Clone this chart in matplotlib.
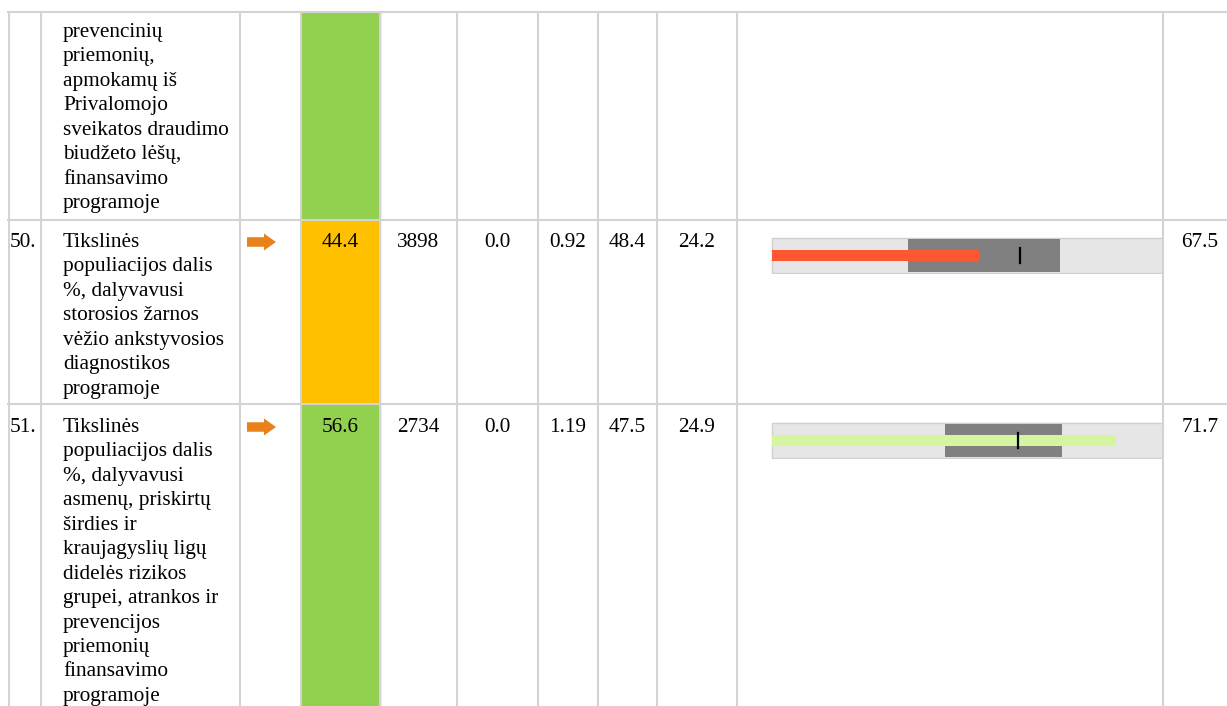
import matplotlib
matplotlib.use("Agg")
import matplotlib.pyplot as plt
from matplotlib.patches import Rectangle

# table data (last row is cut off by the picture, first row is a continuation)
row_nums = ["", "50.", "51."]
row_text = [
    ["prevencinių", "priemonių,", "apmokamų iš", "Privalomojo",
     "sveikatos draudimo", "biudžeto lėšų,", "finansavimo", "programoje"],
    ["Tikslinės", "populiacijos dalis", "%, dalyvavusi", "storosios žarnos",
     "vėžio ankstyvosios", "diagnostikos", "programoje"],
    ["Tikslinės", "populiacijos dalis", "%, dalyvavusi", "asmenų, priskirtų",
     "širdies ir", "kraujagyslių ligų", "didelės rizikos", "grupei, atrankos ir",
     "prevencijos", "priemonių", "finansavimo", "programoje"],
]
has_arrow = [False, True, True]
values = [None, 44.4, 56.6]
value_colors = ["#92D050", "#FFC000", "#92D050"]
counts = [None, 3898, 2734]
col_zero = [None, 0.0, 0.0]
ratios = [None, 0.92, 1.19]
lt_avg = [None, 48.4, 47.5]
mins = [None, 24.2, 24.9]
maxs = [None, 67.5, 71.7]
band_lo = [None, 37.5, 40.8]
band_hi = [None, 52.3, 51.6]
bar_colors = [None, "#FF5733", "#D6F5A0"]
# visible part of the bullet scale (the rest is cut by the column border)
scale_lo = [None, 24.1, 24.8]
scale_hi = [None, 62.3, 60.8]

W, H = 1227, 706
fig = plt.figure(figsize=(W / 100, H / 100), dpi=100)
ax = fig.add_axes([0, 0, 1, 1])
ax.set_xlim(0, W)
ax.set_ylim(H, 0)
ax.axis("off")

col_x = [9, 41, 240, 301, 380, 457, 538, 598, 657, 737, 1163]
row_y = [12, 220, 404, 730]
first_base = [37, 247, 432]
line_h = 24.45
grid_c = "#D3D3D3"
font = dict(family="Liberation Serif", fontsize=15.3, color="black")

for i in range(3):
    top, bot = row_y[i], row_y[i + 1]
    ax.add_patch(Rectangle((col_x[3], top), col_x[4] - col_x[3], bot - top,
                           color=value_colors[i], zorder=1))
    b = first_base[i]
    for k, line in enumerate(row_text[i]):
        ax.text(63, b + k * line_h, line, va="baseline", ha="left", **font)
    if row_nums[i]:
        ax.text(10, b, row_nums[i], va="baseline", ha="left", **font)
    if has_arrow[i]:
        ax.arrow(247, b - 5, 29, 0, width=9.5, head_width=17, head_length=12,
                 length_includes_head=True, color="#E8801C", lw=0, zorder=3)
    if values[i] is None:
        continue
    cells = [f"{values[i]:.1f}", f"{counts[i]}", f"{col_zero[i]:.1f}",
             f"{ratios[i]:.2f}", f"{lt_avg[i]:.1f}", f"{mins[i]:.1f}"]
    for j, s in enumerate(cells):
        cx = (col_x[3 + j] + col_x[4 + j]) / 2
        ax.text(cx, b, s, va="baseline", ha="center", **font)
    ax.text(1200, b, f"{maxs[i]:.1f}", va="baseline", ha="center", **font)

    # bullet chart
    bt = top + 17 if i == 1 else top + 18
    bax = fig.add_axes([771 / W, 1 - (bt + 37) / H, (1162 - 771) / W, 37 / H])
    bax.set_xlim(scale_lo[i], scale_hi[i])
    bax.set_ylim(-0.53, 0.53)
    bax.axis("off")
    bax.barh(0, maxs[i] - mins[i], left=mins[i], height=1.0,
             color="#E6E6E6", edgecolor="#CFCFCF", lw=1)
    bax.barh(0, band_hi[i] - band_lo[i], left=band_lo[i], height=0.92,
             color="#808080", lw=0)
    bax.barh(0, values[i] - mins[i], left=mins[i], height=0.34,
             color=bar_colors[i], lw=0)
    bax.plot([lt_avg[i], lt_avg[i]], [-0.21, 0.21], color="black", lw=1.6)

# grid lines
ax.plot([8, W], [row_y[0], row_y[0]], color=grid_c, lw=1.5, zorder=4)
for y in row_y[1:3]:
    ax.plot([8, W], [y, y], color=grid_c, lw=1.5, zorder=4)
for x in col_x:
    ax.plot([x, x], [row_y[0], H], color=grid_c, lw=1.5, zorder=4)

fig.savefig("out.png", dpi=100)
